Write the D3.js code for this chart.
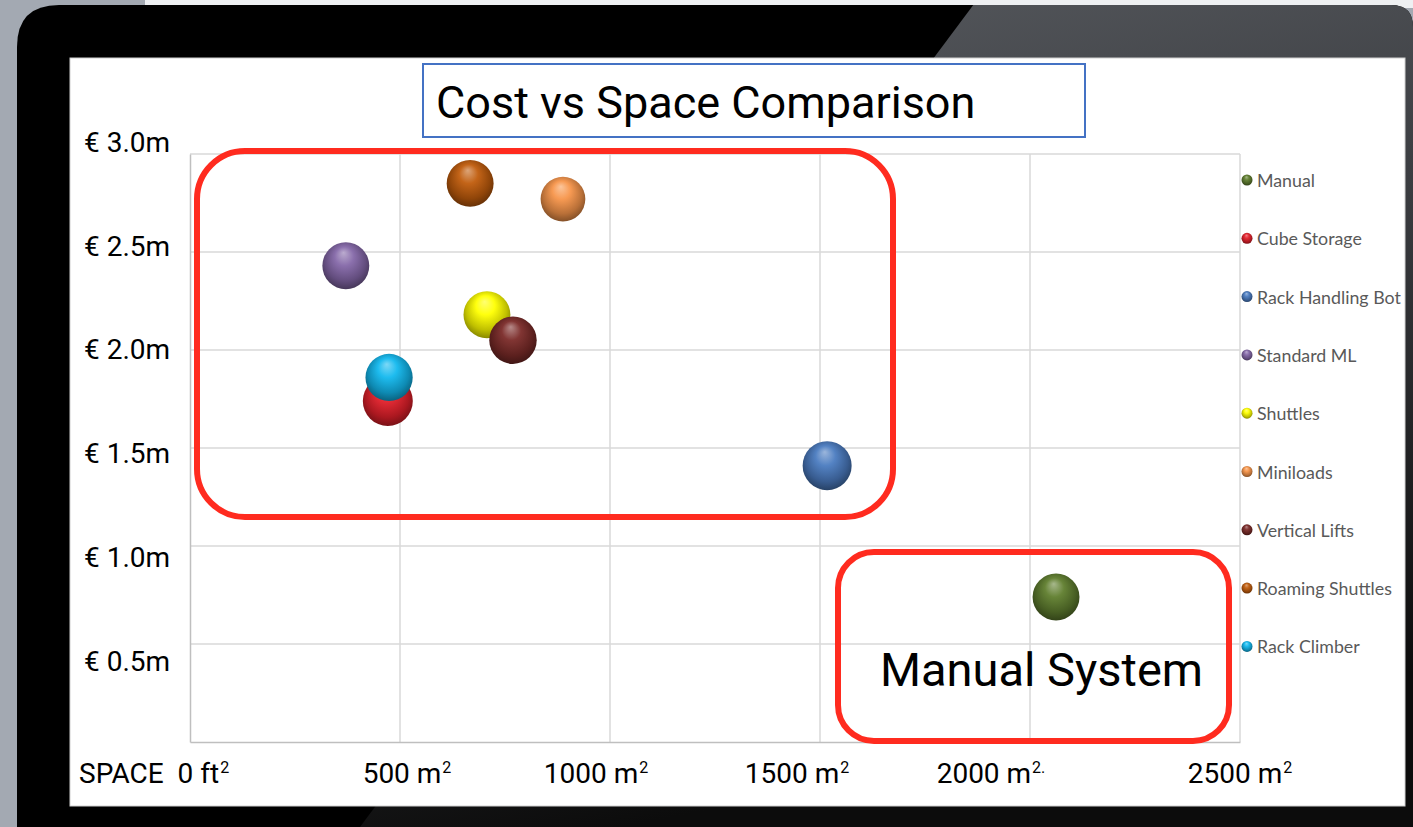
<!DOCTYPE html>
<html>
<head>
<meta charset="utf-8">
<script src="https://cdn.jsdelivr.net/npm/d3@7"></script>
<style>
  html, body { margin: 0; padding: 0; background: #a3a9b2; }
  svg { display: block; }
</style>
</head>
<body>
<svg id="chart" width="1413" height="827"></svg>
<script>
// ---------------- DATA ----------------
const systems = ["Manual", "Cube Storage", "Rack Handling Bot", "Standard ML", "Shuttles",
                 "Miniloads", "Vertical Lifts", "Roaming Shuttles", "Rack Climber"];
const spaceM2 = [2062, 471, 1517, 371, 707, 888, 769, 667, 474];
const costM   = [0.74, 1.74, 1.41, 2.43, 2.18, 2.77, 2.05, 2.85, 1.86];
const bubbleSize = [22, 25, 24, 22, 22, 20, 22.5, 22, 22.3];
const colors = ["#5f7d2e", "#e4202a", "#4a7bc0", "#8467a8", "#ffff00",
                "#f7954a", "#7a2a28", "#c05c0c", "#12b8ee"];
const yTicks = [0.5, 1.0, 1.5, 2.0, 2.5, 3.0];
const yTickLabels = ["€ 0.5m", "€ 1.0m", "€ 1.5m", "€ 2.0m", "€ 2.5m", "€ 3.0m"];
const xTicks = [0, 500, 1000, 1500, 2000, 2500];
const xTickLabels = [["SPACE\u00a0 0 ft", "2"], ["500 m", "2"], ["1000 m", "2"], ["1500 m", "2"], ["2000 m", "2."], ["2500 m", "2"]];
const titleText = "Cost vs Space Comparison";
const calloutText = "Manual System";

// ---------------- LAYOUT ----------------
const svg = d3.select("#chart");
const W = 1413, H = 827;
const plot = { left: 190, right: 1240, top: 154, bottom: 742 };

const x = d3.scaleLinear().domain([0, 2500]).range([plot.left, plot.right]);
const y = d3.scaleLinear().domain([0, 3]).range([plot.bottom, plot.top]);
// hand-placed text boxes in the original sit slightly off the gridlines
const yLabelPos = d3.scaleLinear().domain([0, 3]).range([765, 142.4]);
const xLabelNudge = [0, 7, -14, -23, -39, 0];
const r = d3.scaleSqrt().domain([0, 25]).range([0, 25]);

const defs = svg.append("defs");

// ---------------- BACKGROUND / DEVICE FRAME ----------------
svg.append("rect").attr("width", W).attr("height", H).attr("fill", "#a3a9b2");
svg.append("rect").attr("x", 145).attr("y", 0).attr("width", W - 145).attr("height", 8).attr("fill", "#eef0f2");

const frameClip = defs.append("clipPath").attr("id", "frameClip");
const framePath = (() => {
  const x0 = 17, y0 = 5, x1 = 1413, rr = 42, rr2 = 22;
  return `M${x0},${H} L${x0},${y0 + rr} Q${x0},${y0} ${x0 + rr},${y0} L${x1 - rr2},${y0} Q${x1},${y0} ${x1},${y0 + rr2} L${x1},${H} Z`;
})();
frameClip.append("path").attr("d", framePath);
svg.append("path").attr("d", framePath).attr("fill", "#000");

const refl = defs.append("linearGradient").attr("id", "refl")
  .attr("x1", "0").attr("y1", "0").attr("x2", "0.25").attr("y2", "1");
refl.append("stop").attr("offset", "0%").attr("stop-color", "#5a5d62");
refl.append("stop").attr("offset", "45%").attr("stop-color", "#3a3c40");
refl.append("stop").attr("offset", "100%").attr("stop-color", "#0c0c0c");
svg.append("path")
  .attr("clip-path", "url(#frameClip)")
  .attr("d", `M977,0 L${W},0 L${W},${H} L360,${H} Z`)
  .attr("fill", "url(#refl)");

// white slide panel
svg.append("rect").attr("x", 70).attr("y", 58).attr("width", 1335).attr("height", 748)
  .attr("fill", "#fff").attr("stroke", "#d0d0d0").attr("stroke-width", 1);

// ---------------- GRID ----------------
const grid = svg.append("g");
grid.selectAll("line.h").data(yTicks).join("line")
  .attr("x1", plot.left).attr("x2", plot.right)
  .attr("y1", d => y(d)).attr("y2", d => y(d))
  .attr("stroke", "#d9d9d9").attr("stroke-width", 1.5);
grid.selectAll("line.v").data(xTicks.slice(1)).join("line")
  .attr("y1", plot.top).attr("y2", plot.bottom)
  .attr("x1", d => x(d)).attr("x2", d => x(d))
  .attr("stroke", "#d9d9d9").attr("stroke-width", 1.5);
// plot axes (left & bottom, slightly darker)
const yAxis = d3.axisLeft(y).tickValues([]).tickSize(0);
svg.append("g").attr("transform", `translate(${plot.left},0)`).call(yAxis)
  .call(g => g.select(".domain").attr("stroke", "#bfbfbf").attr("stroke-width", 1.5));
const xAxis = d3.axisBottom(x).tickValues([]).tickSize(0);
svg.append("g").attr("transform", `translate(0,${plot.bottom})`).call(xAxis)
  .call(g => g.select(".domain").attr("stroke", "#bfbfbf").attr("stroke-width", 1.5));

// ---------------- AXIS LABELS ----------------
svg.append("g").selectAll("text").data(yTicks).join("text")
  .attr("x", 84).attr("y", d => yLabelPos(d))
  .attr("dominant-baseline", "central")
  .attr("font-family", "Roboto, sans-serif").attr("font-size", 28).attr("fill", "#000")
  .text((d, i) => yTickLabels[i]);

const xl = svg.append("g").selectAll("text").data(xTicks).join("text")
  .attr("x", (d, i) => x(d) + xLabelNudge[i]).attr("y", 783)
  .attr("text-anchor", "middle")
  .attr("font-family", "Roboto, sans-serif").attr("font-size", 28).attr("fill", "#000");
xl.append("tspan").text((d, i) => xTickLabels[i][0]);
xl.append("tspan").attr("dy", -10).attr("dx", 1).attr("font-size", 16).text((d, i) => xTickLabels[i][1]);
xl.filter((d, i) => i === 0).attr("text-anchor", "start").attr("x", 79);

// ---------------- BUBBLES ----------------
const shade = (c, k) => d3.interpolateRgb(c, k > 0 ? "#fff" : "#000")(Math.abs(k));
systems.forEach((s, i) => {
  const g = defs.append("radialGradient").attr("id", "sph" + i)
    .attr("cx", "50%").attr("cy", "45%").attr("r", "58%")
    .attr("fx", "45%").attr("fy", "22%");
  g.append("stop").attr("offset", "0%").attr("stop-color", shade(colors[i], 0.45));
  g.append("stop").attr("offset", "35%").attr("stop-color", shade(colors[i], 0.05));
  g.append("stop").attr("offset", "75%").attr("stop-color", shade(colors[i], -0.25));
  g.append("stop").attr("offset", "100%").attr("stop-color", shade(colors[i], -0.5));
});

const order = d3.range(systems.length);
svg.append("g").selectAll("circle").data(order).join("circle")
  .attr("cx", i => x(spaceM2[i])).attr("cy", i => y(costM[i]))
  .attr("r", i => r(bubbleSize[i]))
  .attr("fill", i => `url(#sph${i})`);

// ---------------- CALLOUT BOXES ----------------
svg.append("rect").attr("x", 197).attr("y", 151).attr("width", 696).attr("height", 366)
  .attr("rx", 48).attr("fill", "none").attr("stroke", "#ff2b1f").attr("stroke-width", 6);
svg.append("rect").attr("x", 838).attr("y", 552).attr("width", 391).attr("height", 189)
  .attr("rx", 36).attr("fill", "none").attr("stroke", "#ff2b1f").attr("stroke-width", 6);
svg.append("text").attr("x", 880).attr("y", 686)
  .attr("font-family", "Roboto, sans-serif").attr("font-size", 47).attr("fill", "#000")
  .text(calloutText);

// ---------------- TITLE ----------------
svg.append("rect").attr("x", 423).attr("y", 64).attr("width", 662).attr("height", 73)
  .attr("fill", "#fff").attr("stroke", "#4472c4").attr("stroke-width", 2);
svg.append("text").attr("x", 436).attr("y", 118)
  .attr("font-family", "Roboto, sans-serif").attr("font-size", 45).attr("fill", "#000")
  .text(titleText);

// ---------------- LEGEND ----------------
const legend = svg.append("g").selectAll("g").data(order).join("g")
  .attr("transform", i => `translate(1247, ${180 + i * 58.3})`);
legend.append("circle").attr("r", 5.5).attr("fill", i => `url(#sph${i})`);
legend.append("text").attr("x", 10).attr("dominant-baseline", "central")
  .attr("font-family", "Lato, 'Open Sans', sans-serif").attr("font-size", 17.8).attr("fill", "#595959")
  .text(i => systems[i]);
</script>
</body>
</html>
